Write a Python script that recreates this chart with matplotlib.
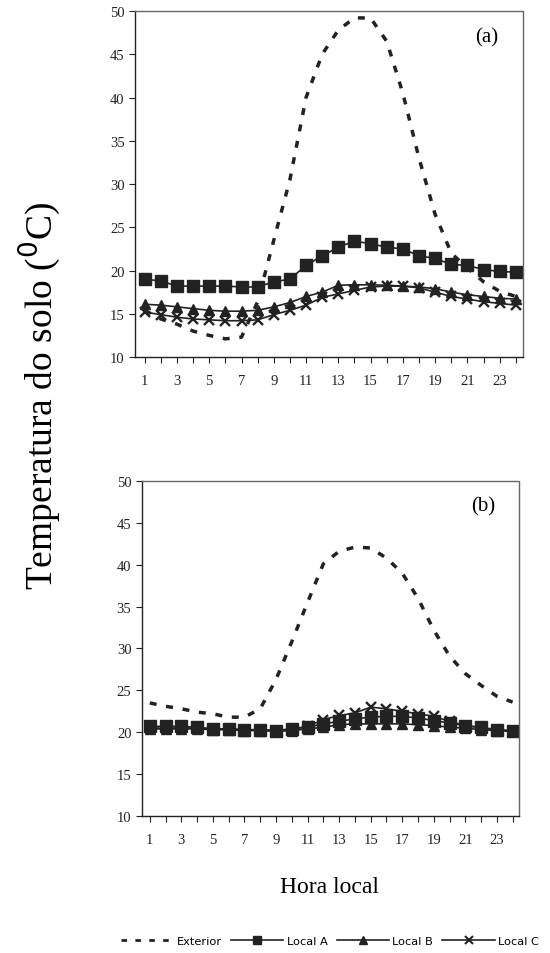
import numpy as np
import matplotlib
matplotlib.use('Agg')
import matplotlib.pyplot as plt
from matplotlib.lines import Line2D

hours = np.arange(1, 25)

# panel (a)
ext_a = [15.4, 14.4, 13.8, 13.0, 12.5, 12.1, 12.3, 16.4, 23.5, 30.5, 40.0, 45.0,
         47.8, 49.2, 49.2, 46.5, 40.5, 33.0, 26.5, 22.0, 20.3, 18.7, 17.6, 17.0]
loc_a_a = [19.0, 18.8, 18.2, 18.2, 18.2, 18.2, 18.1, 18.1, 18.7, 19.0, 20.6, 21.7,
           22.7, 23.4, 23.1, 22.7, 22.5, 21.7, 21.4, 20.7, 20.6, 20.1, 19.9, 19.8]
loc_b_a = [16.1, 16.0, 15.8, 15.6, 15.4, 15.3, 15.3, 15.4, 15.8, 16.3, 17.0, 17.5,
           18.3, 18.35, 18.35, 18.3, 18.2, 18.1, 17.9, 17.5, 17.2, 17.0, 16.8, 16.7]
loc_c_a = [15.2, 14.9, 14.6, 14.4, 14.3, 14.2, 14.2, 14.3, 14.9, 15.4, 16.0, 16.9,
           17.3, 17.7, 18.1, 18.2, 18.2, 18.0, 17.5, 17.0, 16.7, 16.4, 16.2, 16.0]

# panel (b)
ext_b = [23.5, 23.1, 22.8, 22.4, 22.2, 21.8, 21.8, 22.8, 26.3, 30.8, 35.5, 40.1,
         41.6, 42.1, 42.0, 40.8, 39.0, 36.0, 32.2, 29.1, 27.0, 25.6, 24.3, 23.6]
loc_a_b = [20.7, 20.7, 20.7, 20.6, 20.4, 20.4, 20.3, 20.3, 20.2, 20.4, 20.6, 21.0,
           21.3, 21.6, 21.8, 21.9, 21.9, 21.7, 21.4, 21.1, 20.8, 20.6, 20.3, 20.1]
loc_b_b = [20.4, 20.4, 20.4, 20.4, 20.3, 20.3, 20.2, 20.2, 20.1, 20.2, 20.4, 20.6,
           20.9, 21.0, 21.0, 21.0, 21.0, 20.9, 20.8, 20.6, 20.5, 20.3, 20.2, 20.1]
loc_c_b = [20.5, 20.5, 20.5, 20.5, 20.4, 20.4, 20.3, 20.3, 20.2, 20.4, 20.7, 21.5,
           22.0, 22.3, 23.0, 22.8, 22.5, 22.2, 21.9, 21.3, 20.8, 20.5, 20.3, 20.2]

series_labels = ['Exterior', 'Local A', 'Local B', 'Local C']
yticks = np.arange(10, 55, 5)

serif = ['Liberation Serif', 'DejaVu Serif']
dark = '#222222'

fig = plt.figure(figsize=(5.5, 9.54), dpi=100)
ax_a = fig.add_axes([0.2455, 0.6247, 0.7055, 0.3627])
ax_b = fig.add_axes([0.258, 0.1436, 0.6855, 0.3512])


def draw(ax, ext, la, lb, lc, tag, xlim):
    ax.plot(hours, ext, color=dark, linestyle=(0, (2.0, 2.8)), linewidth=2.5)
    ax.plot(hours, la, color=dark, linewidth=1.2, marker='s', markersize=8.5)
    ax.plot(hours, lb, color=dark, linewidth=1.2, marker='^', markersize=7.5)
    ax.plot(hours, lc, color=dark, linewidth=1.2, marker='x', markersize=7.5,
            markeredgewidth=1.7)
    ax.set_ylim(10, 50)
    ax.set_xlim(*xlim)
    ax.set_yticks(yticks)
    ax.set_yticklabels([str(v) for v in yticks], family=serif, fontsize=10.5)
    ax.set_xticks(hours)
    ax.set_xticklabels([str(h) if h % 2 == 1 else '' for h in hours],
                       family=serif, fontsize=10.5)
    ax.tick_params(axis='both', direction='out', length=4, width=0.8, colors=dark)
    ax.tick_params(axis='x', pad=8)
    for side in ('top', 'right'):
        ax.spines[side].set_linestyle((0, (1, 1)))
        ax.spines[side].set_color('#666666')
        ax.spines[side].set_linewidth(1.0)
    for side in ('left', 'bottom'):
        ax.spines[side].set_color(dark)
        ax.spines[side].set_linewidth(1.0)
    ax.text(0.905, 0.925, tag, transform=ax.transAxes, ha='center', va='center',
            family=serif, fontsize=15)


draw(ax_a, ext_a, loc_a_a, loc_b_a, loc_c_a, '(a)', (0.4, 24.45))
draw(ax_b, ext_b, loc_a_b, loc_b_b, loc_c_b, '(b)', (0.5, 24.4))

fig.text(0.073, 0.585, 'Temperatura do solo ($^0$C)', rotation=90, ha='center',
         va='center', family=serif, fontsize=27)
fig.text(0.6, 0.07, 'Hora local', ha='center', va='center', family=serif,
         fontsize=17)

handles = [
    Line2D([0], [0], color=dark, linestyle=(0, (2, 3)), linewidth=2),
    Line2D([0], [0], color=dark, linewidth=1.2, marker='s', markersize=6),
    Line2D([0], [0], color=dark, linewidth=1.2, marker='^', markersize=6),
    Line2D([0], [0], color=dark, linewidth=1.2, marker='x', markersize=6,
           markeredgewidth=1.5),
]
fig.legend(handles=handles, labels=series_labels, ncol=4, frameon=False,
           loc='center', bbox_to_anchor=(0.6, 0.013), fontsize=8.2,
           handlelength=4.6, handletextpad=0.3, columnspacing=0.8)

fig.savefig('out.png', dpi=100)
